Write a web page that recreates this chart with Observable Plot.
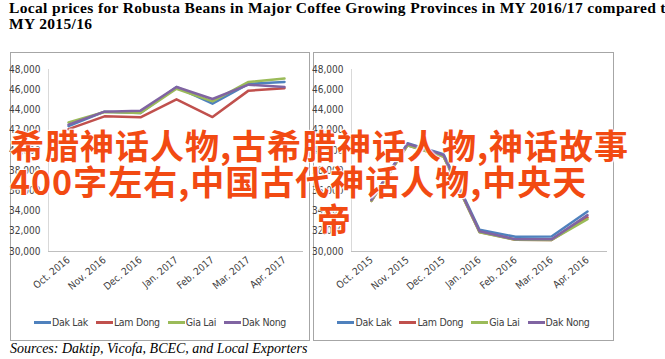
<!DOCTYPE html>
<html><head><meta charset="utf-8">
<script src="https://cdn.jsdelivr.net/npm/d3@7"></script>
<script src="https://cdn.jsdelivr.net/npm/@observablehq/plot@0.6"></script>
<style>
body{margin:0;width:665px;height:359px;overflow:hidden;background:#fff;position:relative;}
#title{position:absolute;left:9px;top:0px;font:bold 15.5px "Liberation Serif",serif;letter-spacing:0.35px;line-height:16px;white-space:nowrap;color:#000}
.panel{position:absolute;top:52px;height:289px;border:1px solid #a6a6a6;box-sizing:border-box;background:#fff}
.panel svg{position:absolute;left:0;top:0}
.legend{position:absolute;left:0;right:0;top:263px;display:flex;justify-content:center;gap:8px;font:10.5px "Liberation Sans Narrow","DejaVu Sans Condensed",sans-serif;letter-spacing:-0.3px;color:#404040;white-space:nowrap}
.sw{display:inline-block;width:17px;height:3px;vertical-align:middle;margin-right:1px;position:relative;top:-1px}
#caption{position:absolute;left:10px;top:341px;font:italic 14px "Liberation Serif",serif;line-height:16px;color:#000;white-space:nowrap}
.overlay{position:absolute;font:bold 34px "Noto Sans CJK SC",sans-serif;line-height:36px;color:#f24a12;white-space:nowrap;letter-spacing:1px;
text-shadow:0 0 2px #fff,0 0 2px #fff,1px 1px 1px #fff,-1px -1px 1px #fff;z-index:5}
</style></head>
<body>
<div id="title">Local prices for Robusta Beans in Major Coffee Growing Provinces in MY 2016/17 compared to<br>MY 2015/16</div>
<div class="panel" id="p1" style="left:10px;width:300px"></div>
<div class="panel" id="p2" style="left:313px;width:301px"></div>
<div id="caption">Sources: Daktip, Vicofa, BCEC, and Local Exporters</div>
<div class="overlay" style="left:10px;top:127px">希腊神话人物,古希腊神话人物,神话故事</div>
<div class="overlay" style="left:10px;top:163px">400字左右,中国古代神话人物,中央天</div>
<div class="overlay" style="left:317px;top:201px">帝</div>
<script>
const provinces = ["Dak Lak", "Lam Dong", "Gia Lai", "Dak Nong"];
const colors = ["#4f81bd", "#c0504d", "#9bbb59", "#8064a2"];
const months1617 = ["Oct. 2016", "Nov. 2016", "Dec. 2016", "Jan. 2017", "Feb. 2017", "Mar. 2017", "Apr. 2017"];
const months1516 = ["Oct. 2015", "Nov. 2015", "Dec. 2015", "Jan. 2016", "Feb. 2016", "Mar. 2016", "Apr. 2016"];
const yTicks = [30000, 32000, 34000, 36000, 38000, 40000, 42000, 44000, 46000, 48000];

// MY 2016/17 (VND/kg)
const dakLak1617  = [42400, 43830, 43700, 46270, 44620, 46580, 46770];
const lamDong1617 = [42100, 43370, 43270, 45050, 43300, 45910, 46140];
const giaLai1617  = [42770, 43800, 43700, 46100, 44850, 46770, 47100];
const dakNong1617 = [42550, 43830, 43930, 46270, 45080, 46500, 46270];

// MY 2015/16 (VND/kg)
const dakLak1516  = [35100, 40700, 39630, 32150, 31450, 31490, 33960];
const lamDong1516 = [35000, 40500, 39400, 31930, 31160, 31140, 33370];
const giaLai1516  = [35000, 40500, 39400, 31900, 31160, 31140, 33200];
const dakNong1516 = [35100, 40650, 39550, 32000, 31200, 31200, 33600];

const condensed = '"Liberation Sans Narrow","DejaVu Sans Condensed",sans-serif';

function drawPanel(el, months, series) {
  const rows = [];
  provinces.forEach((p, i) => series[i].forEach((v, j) => rows.push({province: p, month: months[j], value: v})));
  const chart = Plot.plot({
    width: el.clientWidth, height: 255,
    marginLeft: 37, marginRight: 6, marginTop: 16, marginBottom: 57,
    style: {fontFamily: condensed, fontSize: "10px", color: "#404040", background: "transparent", overflow: "visible"},
    x: {type: "point", domain: months, padding: 0.5, label: null, tickRotate: -40, tickSize: 0, tickPadding: 7},
    y: {domain: [30000, 48000], ticks: yTicks, tickFormat: d3.format(","), label: null, tickSize: 0, tickPadding: 8},
    color: {domain: provinces, range: colors},
    marks: [
      Plot.frame({anchor: "left", stroke: "#d9d9d9"}),
      Plot.ruleY([30000], {stroke: "#bfbfbf"}),
      Plot.line(rows, {x: "month", y: "value", z: "province", stroke: "province", strokeWidth: 2.5})
    ]
  });
  el.appendChild(chart);
  const lg = document.createElement("div");
  lg.className = "legend";
  provinces.forEach((p, i) => {
    const it = document.createElement("span");
    it.innerHTML = `<span class="sw" style="background:${colors[i]}"></span>${p}`;
    lg.appendChild(it);
  });
  el.appendChild(lg);
}
drawPanel(document.getElementById("p1"), months1617, [dakLak1617, lamDong1617, giaLai1617, dakNong1617]);
drawPanel(document.getElementById("p2"), months1516, [dakLak1516, lamDong1516, giaLai1516, dakNong1516]);
</script>
</body></html>
